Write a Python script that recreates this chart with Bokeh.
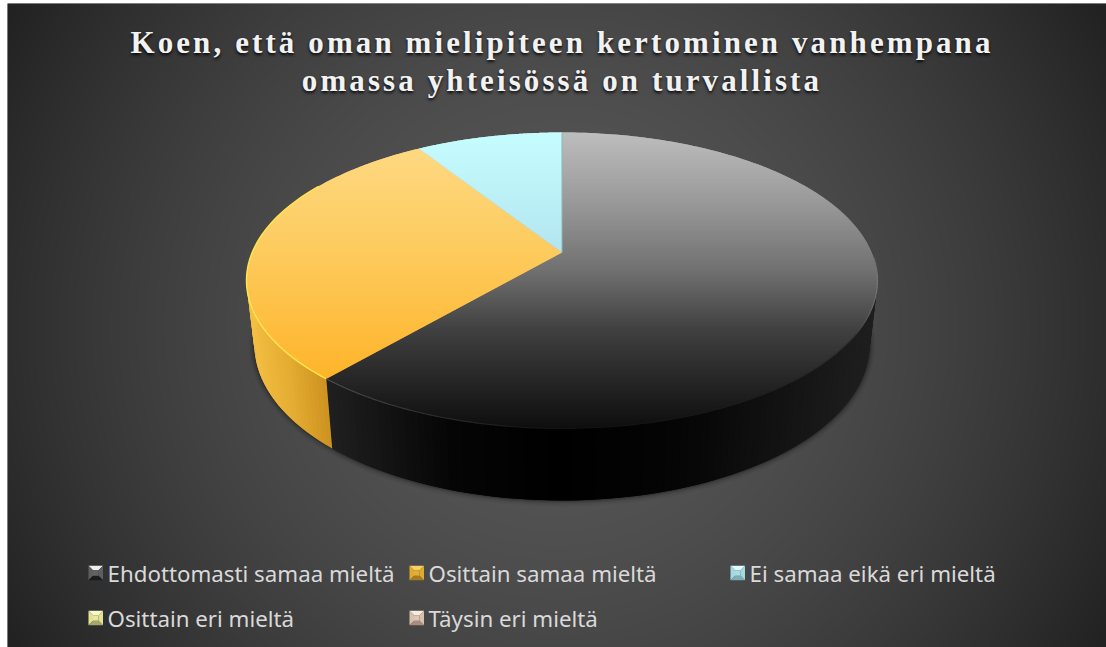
import numpy as np
from bokeh.plotting import figure
from bokeh.models import Range1d, Div
from bokeh.core.properties import value
from bokeh.embed import file_html
from bokeh.resources import INLINE

# ---- data ----
categories = ["Ehdottomasti samaa mieltä", "Osittain samaa mieltä", "Ei samaa eikä eri mieltä",
              "Osittain eri mieltä", "Täysin eri mieltä"]
values = [61.3, 29.7, 9.0, 0.0, 0.0]
title_lines = ["Koen, että oman mielipiteen kertominen vanhempana", "omassa yhteisössä on turvallista"]

# ---- styling ----
TOP_RGB = [
    ([132, 200, 268, 330, 380, 428], [(0xbd,)*3, (0x9a,)*3, (0x72,)*3, (0x40,)*3, (0x26,)*3, (0x0e,)*3]),
    ([130, 250, 378], [(0xfe, 0xdb, 0x88), (0xfd, 0xcb, 0x5e), (0xfe, 0xb4, 0x2a)]),
    ([132, 252], [(0xc6, 0xfd, 0xfe), (0xb3, 0xe5, 0xf0)]),
]
SIDE_RGB = [
    ([326, 450, 560, 680, 876], [(0x20,)*3, (0x05,)*3, (0, 0, 0), (0x05,)*3, (0x1f,)*3]),
    ([246, 290, 332], [(0xf4, 0xc0, 0x44), (0xe3, 0xab, 0x31), (0xc9, 0x8d, 0x1c)]),
    ([0, 1], [(0x99, 0xcc, 0xcc), (0x99, 0xcc, 0xcc)]),
]
KEY_RGB = [
    ("#eeeeee", "#5e5e5e", "#626262", "#1c1c1c"),
    ("#f7d263", "#e0aa30", "#e4ae33", "#a67c20"),
    ("#dcfcff", "#a5d9e2", "#a9dde6", "#7dafb4"),
    ("#f9f9cc", "#e2e296", "#e8e89c", "#a6a668"),
    ("#f9ebe0", "#d6c0af", "#dcc6b5", "#a68f80"),
]
KEY_X = [88, 409, 730, 88, 409]
KEY_Y = [572.5, 572.5, 572.5, 617.5, 617.5]
TEXT_X = [107, 428, 749, 107, 428]


def ramp(x, stops):
    xs, cols = stops
    return "#%02x%02x%02x" % tuple(int(round(np.interp(x, xs, [c[i] for c in cols]))) for i in range(3))


CX, CY, AX, BY, K = 561.5, 252.0, 309.8, 142.7, 0.189


def top(a):
    u, v = np.sin(a), np.cos(a)
    w = 1 + K * v
    return CX + AX * u / w, CY - BY * v / w


def bottom(a):
    x, y = top(a)
    return CX + (x - CX) * 0.975, y + 62 - 10 * np.cos(a)


def clip(px, py, y0, keep_below):
    ox, oy = [], []
    n = len(px)
    for i in range(n):
        x1, y1, x2, y2 = px[i], py[i], px[(i + 1) % n], py[(i + 1) % n]
        in1 = (y1 >= y0) if keep_below else (y1 <= y0)
        in2 = (y2 >= y0) if keep_below else (y2 <= y0)
        if in1:
            ox.append(x1); oy.append(y1)
        if in1 != in2:
            t = (y0 - y1) / (y2 - y1)
            ox.append(x1 + t * (x2 - x1)); oy.append(y0)
    return ox, oy


p = figure(width=1099, height=644, x_range=Range1d(7, 1106), y_range=Range1d(647, 3),
           output_backend="svg", toolbar_location=None, min_border=0, margin=(3, 0, 0, 7),
           outline_line_color=None, background_fill_color="#333333", border_fill_color="#333333")
p.axis.visible = False
p.grid.visible = False

# background radial gradient
W, H = 1099, 644
yy, xx = np.mgrid[0:H, 0:W]
r = np.hypot(xx + 7 - 556, yy + 3 - 325) / 632.0
g = 0x58 - (0x58 - 0x22) * np.clip(r, 0, 1) ** 1.7
gi = g.astype(np.uint32)
img = (np.uint32(255) << 24) | (gi << 16) | (gi << 8) | gi
p.image_rgba(image=[img], x=7, y=3, dw=1099, dh=644)

# angles from the values
frac = np.cumsum([0] + values) / np.sum(values) * 2 * np.pi
starts, ends = frac[:-1], frac[1:]

# soft shadow of the silhouette
sil = np.linspace(np.radians(70), np.radians(290), 160)
bx, by = bottom(sil)
for lw, al in [(12, 0.03), (9, 0.05), (6, 0.07), (4, 0.09), (2, 0.12)]:
    p.line(bx, by, line_color="#000000", line_width=lw, line_alpha=al)

# side walls: strips overlap the following one, so no seams show
for i in range(3):
    a0, a1 = starts[i], ends[i]
    n = max(2, int((a1 - a0) / np.radians(1.2)))
    edges = np.linspace(a0, a1, n + 1)
    step = edges[1] - edges[0]
    xs, ys, cs = [], [], []
    for e0, e1 in zip(edges[:-1], edges[1:]):
        if np.cos((e0 + e1) / 2) > 0.3:
            continue
        e2 = min(e1 + step, a1)
        tx0, ty0 = top(e0); tx1, ty1 = top(e2)
        bx0, by0 = bottom(e0); bx1, by1 = bottom(e2)
        xs.append([tx0, tx1, bx1, bx0]); ys.append([ty0, ty1, by1, by0])
        cs.append(ramp((tx0 + top(e1)[0]) / 2, SIDE_RGB[i]))
    if xs:
        p.patches(xs, ys, fill_color=cs, fill_alpha=1.0, line_color=None)

# top faces, shaded in overlapping bands painted downwards
for i in range(3):
    arc = np.linspace(starts[i], ends[i], 180)
    ax, ay = top(arc)
    px = [CX] + list(ax)
    py = [CY] + list(ay)
    y = np.floor(min(py))
    xs, ys, cs = [], [], []
    while y < max(py):
        qx, qy = clip(px, py, y, True)
        if qx:
            qx, qy = clip(qx, qy, y + 2, False)
        if len(qx) > 2:
            xs.append(qx); ys.append(qy); cs.append(ramp(y + 0.5, TOP_RGB[i]))
        y += 1
    p.patches(xs, ys, fill_color=cs, fill_alpha=1.0, line_color=None)

# rim highlights
ya = np.linspace(starts[1], ends[1], 80)
yx, yy_ = top(ya)
p.line(yx[:60], yy_[:60], line_color="#ffe34f", line_width=1.5)
ba = np.linspace(np.radians(92), ends[0], 120)
bx_, by_ = top(ba)
rim_xs = [[bx_[j], bx_[j + 1]] for j in range(len(ba) - 1)]
rim_ys = [[by_[j], by_[j + 1]] for j in range(len(ba) - 1)]
rim_c = [ramp((bx_[j] + bx_[j + 1]) / 2,
              ([326, 450, 560, 720, 850, 877],
               [(0x50,) * 3, (0x2a,) * 3, (0x11,) * 3, (0x1a,) * 3, (0x2c,) * 3, (0x77,) * 3]))
         for j in range(len(ba) - 1)]
p.multi_line(rim_xs, rim_ys, line_color=rim_c, line_width=1.2)
tx_, ty_ = top(np.array([0.0]))
p.line([CX, tx_[0]], [CY, ty_[0]], line_color="#8db5bb", line_width=1)

# legend keys (bevelled squares) and texts
S, B = 14.5, 4.5
for kx, ky, (c_t, c_s, c_m, c_b) in zip(KEY_X, KEY_Y, KEY_RGB):
    x0, x1, y0, y1 = kx, kx + S, ky - S / 2, ky + S / 2
    ix0, ix1, iy0, iy1 = x0 + B, x1 - B, y0 + B, y1 - B
    p.patches([[x0, x1, ix1, ix0], [x0, ix0, ix0, x0], [x1, ix1, ix1, x1], [x0, x1, ix1, ix0], [ix0, ix1, ix1, ix0]],
              [[y0, y0, iy0, iy0], [y0, iy0, iy1, y1], [y0, iy0, iy1, y1], [y1, y1, iy1, iy1], [iy0, iy0, iy1, iy1]],
              fill_color=[c_t, c_s, c_s, c_b, c_m], fill_alpha=1.0, line_color=None)
p.text(x=TEXT_X, y=KEY_Y, text=categories, text_font=value("Noto Sans"), text_font_size="22.3px",
       text_color="#d9d9d9", text_baseline="middle", text_align="left")

title = Div(text="<br>".join(title_lines),
            styles={"position": "absolute", "left": "5.5px", "top": "21px", "width": "1099px",
                    "text-align": "center", "font-family": "'Liberation Serif'", "font-weight": "bold",
                    "font-size": "31px", "line-height": "38px", "letter-spacing": "3.1px",
                    "color": "#f2f2f2", "text-shadow": "0 2px 3px rgba(0,0,0,0.85)", "white-space": "nowrap"})
p.elements = [title]

open("out.html", "w").write(file_html(p, INLINE))
